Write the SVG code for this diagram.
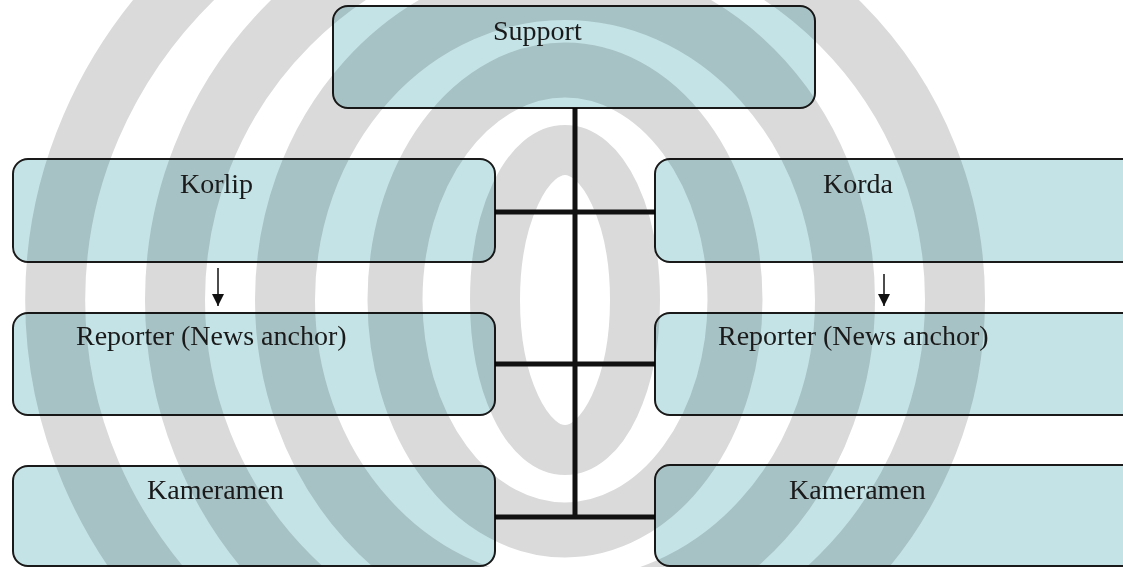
<svg xmlns="http://www.w3.org/2000/svg" width="1123" height="567" viewBox="0 0 1123 567">
  <defs>
    <style>
      .box { fill: #c4e3e6; stroke: #1a1a1a; stroke-width: 2; mix-blend-mode: multiply; }
      .lbl { font-family: "Liberation Serif", "Times New Roman", serif; font-size: 28px; fill: #1a1a1a; }
      .bar { stroke: #111; stroke-width: 5; fill: none; }
      .arr { stroke: #111; stroke-width: 1.5; fill: none; marker-end: url(#head); }
      .wm { fill: none; stroke: #dadada; }
    </style>
    <marker id="head" viewBox="0 0 12 12" refX="12" refY="6" markerWidth="13" markerHeight="12" markerUnits="userSpaceOnUse" orient="auto">
      <path d="M0,0 L12,6 L0,12 Z" fill="#111"/>
    </marker>
  </defs>
  <rect x="0" y="0" width="1123" height="567" fill="#ffffff"/>
  <g id="watermark">
    <ellipse class="wm" cx="565" cy="300" rx="70" ry="150" stroke-width="50"/>
    <ellipse class="wm" cx="565" cy="300" rx="170" ry="230" stroke-width="55"/>
    <ellipse class="wm" cx="565" cy="300" rx="280" ry="310" stroke-width="60"/>
    <ellipse class="wm" cx="565" cy="300" rx="390" ry="390" stroke-width="60"/>
    <path class="wm" d="M565,-170 A510,470 0 0 0 565,770" stroke-width="60"/>
  </g>
  <g id="connectors">
    <line class="bar" x1="575" y1="108" x2="575" y2="519"/>
    <line class="bar" x1="495" y1="212" x2="655" y2="212"/>
    <line class="bar" x1="495" y1="364" x2="655" y2="364"/>
    <line class="bar" x1="495" y1="517" x2="655" y2="517"/>
    <line class="arr" x1="218" y1="268" x2="218" y2="306"/>
    <line class="arr" x1="884" y1="274" x2="884" y2="306"/>
  </g>
  <g id="support">
    <rect class="box" x="333" y="6" width="482" height="102" rx="15"/>
    <text class="lbl" x="493" y="40">Support</text>
  </g>
  <g id="korlip">
    <rect class="box" x="13" y="159" width="482" height="103" rx="15"/>
    <text class="lbl" x="180" y="193">Korlip</text>
  </g>
  <g id="korda">
    <rect class="box" x="655" y="159" width="482" height="103" rx="15"/>
    <text class="lbl" x="823" y="193">Korda</text>
  </g>
  <g id="reporter-left">
    <rect class="box" x="13" y="313" width="482" height="102" rx="15"/>
    <text class="lbl" x="76" y="345">Reporter (News anchor)</text>
  </g>
  <g id="reporter-right">
    <rect class="box" x="655" y="313" width="482" height="102" rx="15"/>
    <text class="lbl" x="718" y="345">Reporter (News anchor)</text>
  </g>
  <g id="kameramen-left">
    <rect class="box" x="13" y="466" width="482" height="100" rx="15"/>
    <text class="lbl" x="147" y="499">Kameramen</text>
  </g>
  <g id="kameramen-right">
    <rect class="box" x="655" y="465" width="482" height="101" rx="15"/>
    <text class="lbl" x="789" y="499">Kameramen</text>
  </g>
</svg>
